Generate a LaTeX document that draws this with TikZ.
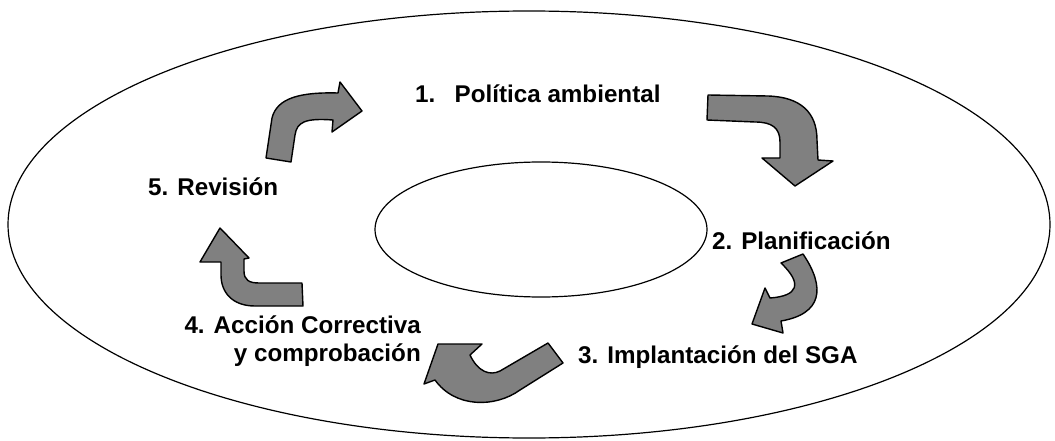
\documentclass[tikz,border=0pt]{standalone}
\usepackage{fontspec}
\setmainfont{Liberation Sans}
\begin{document}
\begin{tikzpicture}[x=1pt,y=-1pt,
  ring/.style={draw=black,line width=1.2pt},
  bentarrow/.style={draw=black,fill=gray,line width=1.4pt,line join=round},
  label/.style={font=\bfseries\fontsize{24.2}{28}\selectfont,inner sep=0pt}]
\useasboundingbox (0,0) rectangle (1055,441);
% outer and inner rings
\draw[ring] (529,224.5) ellipse [x radius=521, y radius=213.5];
\draw[ring] (541,229.5) ellipse [x radius=166, y radius=67.5];

% stage labels
\node[label,anchor=base west] (s1) at (415,103) {1.\hspace{0.8em}Política ambiental};
\node[label,anchor=base west] (s2) at (712,249) {2. Planificación};
\node[label,anchor=base west] (s3) at (578,363) {3. Implantación del SGA};
\node[label,anchor=east,align=right] (s4) at (421,341) {4. Acción Correctiva\\y comprobación};
\node[label,anchor=base west] (s5) at (148,195) {5. Revisión};

% curved arrows between the stages
\draw[bentarrow] (266,158) -- (272,118) .. controls (277,98) and (300,92) .. (338,93)
  -- (340,82) -- (362,111) -- (332,132) -- (333,120)
  .. controls (305,118) and (297,122) .. (295,135) -- (291,162) -- cycle;
\draw[bentarrow] (708,95) -- (768,96) .. controls (800,97) and (817,112) .. (817,140)
  -- (818,160) -- (833,161) -- (795,186) -- (762,158) -- (780,158) -- (780,142)
  .. controls (780,128) and (772,122) .. (755,122) -- (707,120) -- cycle;
\draw[bentarrow] (781,263) -- (803,254) .. controls (826,288) and (822,314) .. (781,321)
  -- (783,333) -- (752,324) -- (765,288) -- (770,298)
  .. controls (798,296) and (803,284) .. (781,263) -- cycle;
\draw[bentarrow] (548,343) -- (563,363) -- (520,390) .. controls (495,408) and (455,408) .. (435,380)
  -- (424,384) -- (438,344) -- (482,344) -- (470,355)
  .. controls (478,372) and (490,376) .. (500,371) -- cycle;
\draw[bentarrow] (220,228) -- (249,258) -- (244,259) -- (244,271)
  .. controls (244,280) and (249,283) .. (259,283) -- (302,283) -- (303,306) -- (255,306)
  .. controls (232,306) and (221,292) .. (221,275) -- (221,262) -- (200,262) -- cycle;
\end{tikzpicture}
\end{document}
